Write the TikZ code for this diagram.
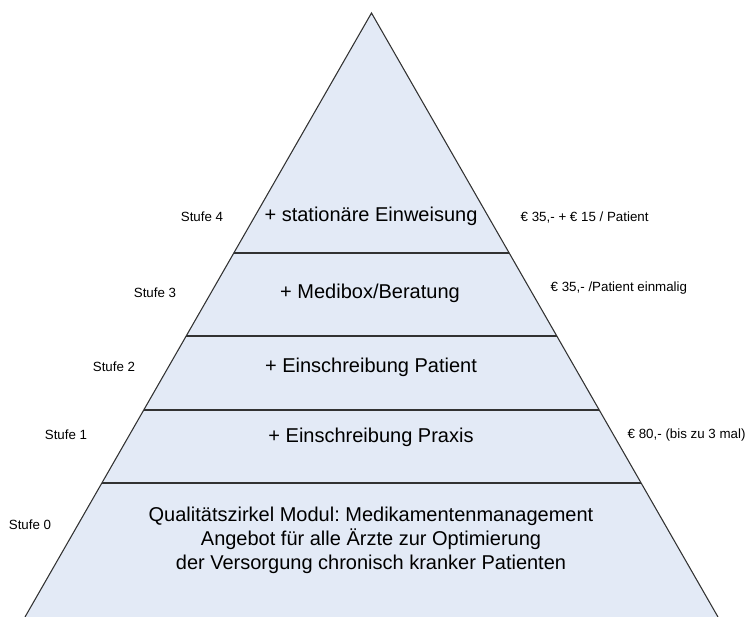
\documentclass[tikz,border=0pt]{standalone}
\usepackage{fontspec}
\setmainfont{Liberation Sans}
\frenchspacing
\definecolor{pyrfill}{RGB}{227,234,246}
\definecolor{pyrline}{RGB}{50,50,50}
\begin{document}
\begin{tikzpicture}[x=0.75pt,y=-0.75pt,
    stufe/.style={font=\fontsize{10}{12}\selectfont},
    preis/.style={font=\fontsize{10}{12}\selectfont,anchor=west},
    band/.style={font=\fontsize{15}{18}\selectfont,align=center}]
    \useasboundingbox (0,0) rectangle (747,617);
    \coordinate (apex) at (371.5,13);
    \coordinate (bl) at (25,617);
    \coordinate (br) at (718,617);
    \fill[pyrfill] (apex) -- (bl) -- (br) -- cycle;
    \begin{scope}
        \clip (apex) -- (bl) -- (br) -- cycle;
        \foreach \y in {253,336,410,483}
            \draw[pyrline,line width=0.8pt] (0,\y) -- (747,\y);
    \end{scope}
    \draw[pyrline,line width=0.8pt] (bl) -- (apex) -- (br);
    % Stufen
    \node[band] (b4) at (371,216) {+ stationäre Einweisung};
    \node[band] (b3) at (370,293) {+ Medibox/Beratung};
    \node[band] (b2) at (371,367) {+ Einschreibung Patient};
    \node[band] (b1) at (371,437) {+ Einschreibung Praxis};
    \node[band] (b0) at (371,540) {Qualitätszirkel Modul: Medikamentenmanagement\\
        Angebot für alle Ärzte zur Optimierung\\
        der Versorgung chronisch kranker Patienten};
    \node[stufe] (s4) at (202,217) {Stufe 4};
    \node[stufe] (s3) at (155,293) {Stufe 3};
    \node[stufe] (s2) at (114,367) {Stufe 2};
    \node[stufe] (s1) at (66,435) {Stufe 1};
    \node[stufe] (s0) at (30,525) {Stufe 0};
    \node[preis] (p4) at (516,218) {€ 35,- + € 15 / Patient};
    \node[preis] (p3) at (546,288) {€ 35,- /Patient einmalig};
    \node[preis] (p1) at (623,435) {€ 80,- (bis zu 3 mal)};
\end{tikzpicture}
\end{document}
